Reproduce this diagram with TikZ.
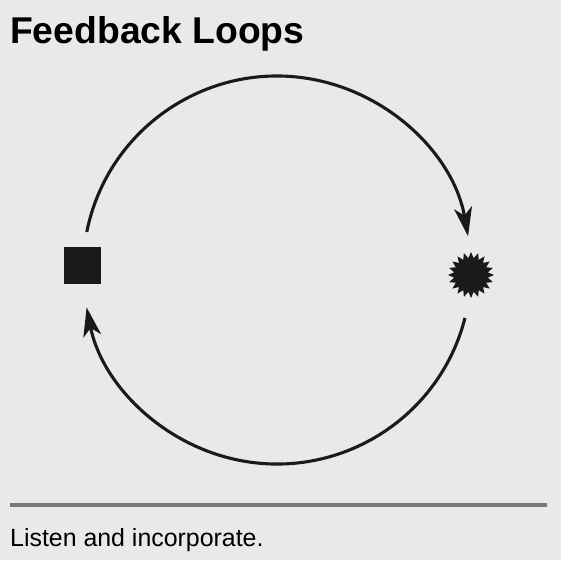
\documentclass[tikz,border=0pt]{standalone}
\usepackage{fontspec}
\setmainfont{Liberation Sans}
\usetikzlibrary{arrows.meta,shapes.geometric}
\definecolor{bg}{HTML}{E9E9E9}
\definecolor{ink}{HTML}{1A1A1A}
\definecolor{rule}{HTML}{777777}
\begin{document}
\begin{tikzpicture}[x=1pt,y=1pt,
  loop/.style={draw=ink,line width=3.1pt,-{Stealth[length=29pt,width=18pt,inset=8pt]}},
  txt/.style={inner sep=0pt,anchor=base west,text=black}]
\fill[bg] (0,0) rectangle (561,-560);
\useasboundingbox (0,0) rectangle (561,-560);
\node[txt,font=\bfseries\fontsize{37.3}{41}\selectfont] (title) at (10,-43) {Feedback Loops};
\node[fill=ink,minimum size=37pt,inner sep=0pt] (sq) at (82.5,-265.5) {};
\node[star,star points=20,star point ratio=1.35,fill=ink,minimum size=46pt,inner sep=0pt] (st) at (471,-275) {};
\coordinate (c) at (277,-270);
\draw[loop] (c) ++(168.7:194pt) coordinate (a1) arc[start angle=168.7,end angle=10.0,radius=194pt] coordinate (a2);
\draw[loop] (c) ++(-14.3:194pt) coordinate (b1) arc[start angle=-14.3,end angle=-168.9,radius=194pt] coordinate (b2);
\coordinate (r1) at (10,-505);
\coordinate (r2) at (547,-505);
\draw[rule,line width=4pt] (r1) -- (r2);
\node[txt,font=\fontsize{24.9}{28}\selectfont] (cap) at (10,-546) {Listen and incorporate.};
\end{tikzpicture}
\end{document}
